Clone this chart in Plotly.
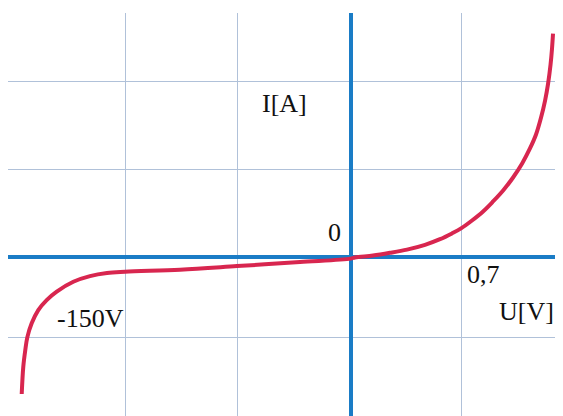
import plotly.graph_objects as go

# Curve (grid units: x = 1 grid column, y = 1 grid row)
curve_x = [-2.940, -2.926, -2.908, -2.890, -2.851, -2.792, -2.717, -2.627, -2.479, -2.330,
           -2.178, -2.017, -1.525, -1.016, -0.453, 0.0, 0.038, 0.199, 0.351, 0.503,
           0.664, 0.798, 0.905, 0.986, 1.084, 1.183, 1.272, 1.362, 1.451, 1.532,
           1.602, 1.656, 1.701, 1.737, 1.764, 1.786, 1.799, 1.808]
curve_y = [-1.553, -1.243, -1.053, -0.909, -0.750, -0.599, -0.485, -0.389, -0.277, -0.213,
           -0.178, -0.164, -0.139, -0.099, -0.053, -0.014, 0.0, 0.0216, 0.0523, 0.0886,
           0.143, 0.207, 0.273, 0.330, 0.420, 0.523, 0.636, 0.761, 0.909, 1.068,
           1.239, 1.398, 1.591, 1.784, 1.977, 2.193, 2.375, 2.545]

grid_x = [-2.015, -1.016, 0.986]
grid_y = [2.0, 1.0, -0.91]

labels = ["I[A]", "0", "0,7", "U[V]", "-150V"]
label_x = [-0.591, -0.149, 1.191, 1.571, -2.325]
label_y = [1.753, 0.2875, -0.19, -0.616, -0.695]

fig = go.Figure()
fig.add_trace(go.Scatter(
    x=curve_x, y=curve_y, mode="lines",
    line=dict(color="#d8264f", width=4, shape="spline", smoothing=1.0),
    hoverinfo="skip", showlegend=False,
))

for t, x, y in zip(labels, label_x, label_y):
    fig.add_annotation(x=x, y=y, text=t, showarrow=False,
                       xanchor="center", yanchor="middle",
                       font=dict(family="Liberation Serif", size=26, color="#111111"))

# page body has an 8px default margin, so the figure is 8px smaller
fig.update_layout(
    width=555, height=408,
    margin=dict(l=0, r=0, t=5, b=0),
    paper_bgcolor="white", plot_bgcolor="white",
    xaxis=dict(range=[-3.0626, 1.8972], tickvals=grid_x, showticklabels=False,
               showgrid=True, gridcolor="#b0c1d9", gridwidth=1,
               zeroline=True, zerolinecolor="#1a7cc6", zerolinewidth=4,
               showline=False, fixedrange=True),
    yaxis=dict(range=[-1.8034, 2.7795], tickvals=grid_y, showticklabels=False,
               showgrid=True, gridcolor="#b0c1d9", gridwidth=1,
               zeroline=True, zerolinecolor="#1a7cc6", zerolinewidth=4,
               showline=False, fixedrange=True),
)

fig.write_html("out.html")
